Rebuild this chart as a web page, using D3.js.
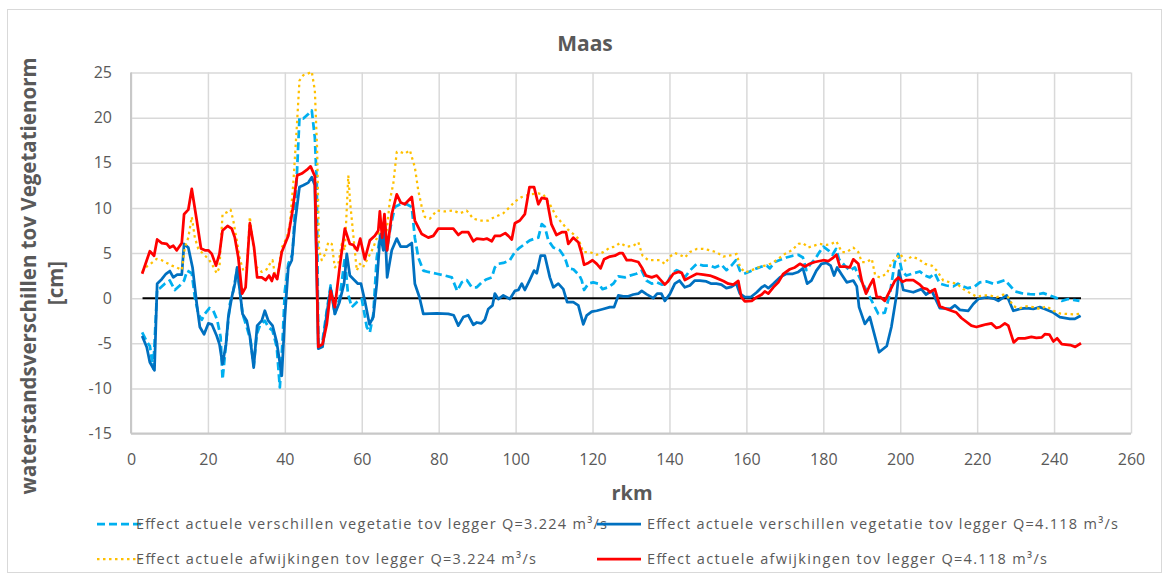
<!DOCTYPE html>
<html>
<head>
<meta charset="utf-8">
<script src="https://cdn.jsdelivr.net/npm/d3@7"></script>
<style>
  body { margin: 0; background: #fff; }
  text { font-family: "Open Sans", "Liberation Sans", sans-serif; fill: #595959; }
</style>
</head>
<body>
<div id="chart"></div>
<script>
// rkm / waterstand difference [cm]
const vegQ3224 = [[2.9,-3.8],[4.1,-4.8],[4.9,-5.3],[5.8,-7.8],[6.8,1.0],[7.5,1.1],[8.8,1.6],[10.1,1.95],[11.4,0.9],[12.7,1.4],[13.8,1.95],[14.6,3.05],[15.8,2.75],[16.6,0.1],[17.5,-1.75],[18.4,-2.4],[19.2,-1.75],[20.4,-1.1],[21.4,-1.4],[22.4,-2.4],[23.3,-4.3],[23.8,-9.0],[24.7,-5.1],[25.7,-0.65],[26.6,0.8],[27.6,3.2],[28.3,0.8],[29.0,-1.75],[30.1,-3.2],[31.1,-4.7],[31.9,-7.5],[32.7,-4.0],[33.5,-3.05],[34.8,-2.5],[35.7,-3.2],[36.8,-3.6],[37.9,-5.45],[38.7,-9.9],[39.4,-4.7],[40.0,0.8],[40.9,3.8],[42.0,4.9],[43.1,13.4],[43.8,20.0],[44.8,19.9],[46.1,20.4],[47.0,20.8],[47.8,17.8],[48.3,12.7],[48.7,-5.1],[49.8,-4.7],[50.9,-1.4],[51.9,1.4],[53.0,-1.75],[54.3,0.1],[55.6,4.5],[56.4,0.5],[57.4,-1.0],[58.7,-0.45],[60.0,-0.1],[61.3,-3.2],[62.1,-3.8],[63.0,-1.75],[63.9,4.5],[64.7,6.7],[65.6,6.9],[66.5,5.3],[67.5,7.9],[68.6,10.1],[70.0,10.4],[71.7,10.4],[73.0,10.1],[73.8,6.7],[74.7,4.5],[76.0,3.05],[77.3,2.9],[79.5,2.7],[81.6,2.5],[83.4,2.3],[84.8,0.8],[86.0,1.75],[87.3,2.0],[88.6,1.2],[89.9,1.2],[91.2,1.75],[92.5,2.1],[93.8,2.3],[94.6,3.4],[95.5,3.8],[96.8,3.9],[98.5,4.2],[99.8,5.1],[101.1,5.6],[102.4,6.0],[103.7,6.4],[105.0,6.6],[105.9,6.7],[106.8,8.2],[107.6,7.9],[108.5,6.4],[109.8,5.6],[111.5,5.3],[112.8,4.5],[113.7,3.3],[115.0,3.2],[116.6,2.5],[117.2,1.95],[117.8,0.9],[118.9,1.6],[120.2,1.75],[121.5,1.6],[122.6,1.0],[124.1,1.2],[125.4,1.6],[126.7,2.4],[128.4,2.3],[129.7,2.5],[131.4,2.7],[132.8,3.05],[134.0,1.95],[135.4,1.6],[136.7,1.75],[138.0,1.5],[139.3,1.6],[140.6,2.7],[141.9,3.1],[142.9,2.9],[144.0,2.3],[145.3,3.05],[147.1,3.8],[148.8,3.6],[150.5,3.6],[151.8,3.4],[153.5,3.7],[154.8,3.1],[156.1,3.6],[157.3,4.2],[158.3,3.05],[159.4,2.7],[160.9,2.95],[162.7,3.3],[164.0,3.5],[165.3,3.6],[166.1,3.3],[167.4,4.0],[169.2,4.3],[170.4,4.5],[172.1,4.7],[173.5,4.8],[174.7,4.5],[175.6,3.1],[176.7,3.8],[177.8,4.3],[179.0,5.1],[180.0,5.7],[181.3,5.3],[182.4,4.8],[183.3,5.45],[184.1,4.3],[185.6,3.6],[186.9,3.05],[188.2,3.4],[189.5,2.2],[191.3,0.8],[193.0,-0.65],[194.3,-1.75],[196.0,-1.6],[197.3,0.45],[198.6,4.0],[199.5,4.9],[200.4,3.05],[201.6,2.5],[203.4,2.75],[205.1,2.95],[206.4,2.5],[207.7,2.3],[209.0,2.75],[210.3,1.6],[212.0,1.4],[213.8,1.3],[215.0,1.6],[216.3,1.3],[217.6,1.1],[219.4,1.3],[220.7,1.75],[222.5,1.85],[224.2,1.6],[225.5,1.75],[227.2,2.0],[228.5,1.4],[229.8,0.75],[231.5,0.55],[233.7,0.45],[235.4,0.4],[237.2,0.55],[238.9,0.3],[240.7,0.0],[242.0,-0.3],[243.7,-0.1],[245.0,-0.2],[246.6,-0.3]];

const vegQ4118 = [[2.9,-4.2],[4.1,-5.45],[4.9,-7.1],[6.1,-8.0],[6.8,1.6],[8.0,2.1],[9.1,2.7],[10.1,3.0],[11.0,2.3],[12.0,2.6],[13.2,2.6],[13.8,6.0],[14.9,5.6],[16.0,3.4],[17.1,-0.65],[17.9,-3.2],[19.0,-4.0],[20.1,-2.8],[21.0,-2.9],[22.3,-4.2],[23.0,-5.1],[23.8,-7.3],[24.7,-5.1],[25.3,-2.1],[26.2,0.1],[27.0,1.6],[27.6,3.4],[28.5,0.1],[29.0,-1.75],[30.1,-2.5],[30.9,-4.2],[31.9,-7.7],[32.8,-3.05],[34.0,-2.5],[34.8,-1.4],[35.7,-2.5],[36.8,-3.05],[37.9,-4.9],[39.2,-8.6],[40.0,-2.1],[40.9,3.4],[41.8,4.2],[42.6,8.2],[43.8,12.3],[44.8,12.5],[46.1,12.8],[47.0,13.4],[47.8,12.5],[48.7,-5.6],[49.8,-5.4],[50.9,-1.75],[51.9,1.1],[53.0,-1.75],[54.2,-0.45],[55.4,1.6],[56.1,4.9],[56.9,2.5],[59.0,1.6],[59.8,1.6],[60.8,-0.3],[62.0,-2.9],[63.0,-2.1],[63.9,1.6],[64.8,7.1],[65.6,5.3],[66.0,8.2],[66.6,2.3],[67.8,5.3],[69.1,6.6],[70.1,5.7],[71.7,5.7],[73.0,6.1],[73.8,1.6],[75.0,0.1],[76.0,-1.75],[79.5,-1.7],[82.5,-1.75],[83.9,-1.9],[85.1,-3.05],[86.4,-2.1],[87.7,-1.9],[89.0,-2.95],[89.9,-2.7],[91.1,-2.8],[92.0,-2.4],[92.9,-1.2],[94.0,-0.8],[94.6,0.5],[95.5,-0.1],[96.8,0.3],[98.5,-0.1],[99.8,0.8],[100.7,0.9],[101.6,1.6],[102.4,0.9],[103.6,1.95],[104.8,3.05],[105.5,2.75],[106.5,4.7],[107.6,4.7],[108.9,2.3],[109.8,1.2],[111.1,1.6],[112.4,1.0],[113.4,-0.45],[115.0,-0.45],[116.3,-0.8],[117.6,-2.9],[118.5,-1.9],[119.8,-1.5],[121.1,-1.4],[122.8,-1.2],[124.5,-1.0],[125.6,-1.0],[126.7,0.3],[128.0,0.2],[129.3,0.2],[130.6,0.4],[131.9,0.5],[132.8,0.8],[134.0,0.45],[135.8,0.0],[136.8,0.5],[137.9,0.5],[138.8,-0.3],[140.1,0.45],[141.4,1.6],[142.6,1.95],[144.0,1.2],[145.3,1.4],[146.6,1.95],[147.9,1.95],[149.6,1.85],[150.9,1.6],[152.2,1.6],[153.5,1.5],[154.8,1.1],[156.1,1.25],[157.4,1.6],[158.3,0.5],[159.6,0.1],[161.1,0.1],[162.7,0.65],[164.0,1.2],[164.8,1.4],[165.7,1.1],[167.0,1.6],[168.7,2.3],[170.4,2.7],[172.1,2.7],[173.5,2.9],[174.7,3.3],[175.8,1.6],[176.9,1.95],[178.2,3.05],[179.5,3.8],[180.8,3.9],[181.9,3.6],[182.8,2.5],[183.6,3.4],[184.8,2.6],[186.1,1.75],[187.8,1.95],[188.7,1.3],[189.3,-1.0],[190.8,-2.85],[192.1,-2.1],[194.5,-6.0],[196.5,-5.3],[197.7,-3.2],[199.1,0.5],[199.7,3.05],[200.8,0.9],[203.4,0.65],[205.5,1.0],[206.7,0.4],[208.2,0.8],[210.3,-1.1],[213.0,-1.2],[214.2,-0.8],[215.5,-1.3],[217.7,-1.4],[219.0,-0.65],[220.3,-0.1],[222.5,0.1],[224.6,-0.1],[225.5,-0.3],[227.7,0.3],[229.4,-1.4],[231.1,-1.2],[232.8,-1.1],[234.6,-1.2],[236.3,-1.0],[237.6,-1.2],[239.8,-1.6],[241.5,-2.1],[244.1,-2.3],[245.4,-2.3],[246.9,-1.95]];

const afwQ3224 = [[2.9,2.9],[4.1,3.5],[5.4,3.9],[6.7,4.35],[8.0,4.2],[9.3,3.9],[10.6,3.6],[11.9,3.4],[13.2,3.1],[14.0,5.6],[14.9,6.7],[15.8,9.0],[16.6,6.7],[17.5,5.45],[18.8,4.9],[20.1,4.35],[21.0,3.8],[22.3,2.75],[23.0,3.4],[23.8,9.3],[24.9,9.5],[25.9,9.8],[26.6,8.6],[27.5,6.4],[28.3,4.35],[29.2,3.05],[30.1,3.4],[30.9,9.0],[31.6,6.4],[32.7,3.4],[34.0,2.9],[35.3,3.2],[36.1,3.8],[36.8,4.2],[37.4,2.7],[38.3,3.05],[39.2,5.6],[40.5,6.7],[41.3,8.2],[42.2,12.7],[43.1,18.9],[43.8,24.1],[44.8,24.7],[46.1,24.9],[47.0,25.1],[47.8,23.0],[48.4,16.4],[48.9,5.3],[49.6,4.2],[50.5,4.9],[51.3,6.2],[52.2,6.0],[53.0,3.4],[53.9,3.8],[54.8,6.0],[55.6,5.3],[56.5,13.6],[57.0,10.5],[58.7,3.05],[59.5,3.8],[60.3,3.4],[61.7,4.5],[63.0,5.6],[64.3,7.1],[65.6,8.2],[66.5,7.5],[67.3,10.8],[68.2,12.7],[69.1,16.2],[70.0,16.2],[71.2,16.0],[72.5,16.4],[73.8,14.5],[74.7,11.9],[75.6,10.1],[76.4,9.0],[77.7,8.8],[79.5,9.7],[81.6,9.6],[83.8,9.7],[85.5,9.4],[87.3,9.7],[89.0,8.8],[90.7,8.6],[92.9,8.6],[94.6,9.0],[96.8,9.4],[98.5,10.1],[99.8,10.7],[101.6,11.2],[103.7,11.5],[105.9,11.6],[107.2,11.5],[108.9,10.4],[110.6,9.0],[111.5,8.6],[113.3,7.7],[115.0,7.1],[116.3,6.6],[117.6,5.1],[119.3,5.1],[121.1,4.8],[122.8,5.1],[124.5,5.6],[125.8,5.7],[127.1,6.1],[128.9,5.7],[130.6,5.8],[131.9,6.2],[133.0,4.7],[134.5,4.2],[135.8,4.2],[137.5,4.2],[138.8,3.8],[140.1,4.6],[141.4,5.0],[142.7,4.8],[144.0,4.5],[145.3,5.1],[147.1,5.45],[148.8,5.45],[150.5,5.3],[152.2,5.1],[154.0,4.6],[155.3,4.7],[156.4,4.8],[157.5,4.9],[158.3,3.5],[159.6,2.85],[161.4,3.1],[163.1,3.4],[164.8,3.6],[166.6,3.85],[168.3,4.35],[170.0,4.9],[171.8,5.3],[173.5,6.0],[174.7,6.1],[176.1,5.6],[177.4,5.8],[179.1,6.0],[180.8,5.9],[182.1,6.0],[183.4,6.3],[184.8,5.1],[186.1,5.1],[187.8,5.6],[189.1,5.1],[190.0,4.0],[191.3,4.0],[192.6,4.35],[193.5,2.5],[194.7,2.3],[196.5,2.7],[197.8,4.0],[199.1,4.5],[200.0,4.9],[201.2,4.15],[203.0,4.6],[204.7,4.35],[206.4,3.8],[208.2,3.6],[209.5,3.05],[211.2,1.95],[212.9,1.75],[214.7,1.6],[216.4,1.0],[218.2,0.55],[219.9,0.15],[221.6,0.3],[223.3,0.3],[225.1,0.1],[226.8,0.4],[228.1,0.1],[229.4,-0.9],[231.1,-1.1],[232.8,-0.9],[234.6,-1.0],[236.3,-1.2],[238.0,-0.9],[239.8,-1.4],[241.5,-1.7],[243.2,-1.75],[245.0,-1.8],[246.7,-1.75]];

const afwQ4118 = [[2.9,2.7],[4.9,5.2],[6.0,4.7],[6.8,6.5],[8.0,6.1],[9.3,6.0],[10.1,5.6],[11.0,5.8],[11.9,5.3],[13.2,6.1],[13.8,9.3],[14.9,9.8],[15.8,12.1],[17.1,8.6],[18.2,5.5],[19.2,5.3],[20.1,5.3],[21.0,4.9],[22.1,3.6],[23.0,4.9],[23.8,7.5],[25.1,8.0],[26.2,7.7],[27.0,6.7],[27.9,4.5],[28.9,0.5],[29.8,1.2],[30.9,8.3],[32.0,5.6],[32.8,2.3],[34.0,2.3],[35.0,2.0],[35.9,2.5],[36.6,1.9],[37.2,2.7],[38.0,2.1],[39.2,5.1],[40.9,6.9],[42.0,9.7],[43.2,13.6],[44.4,13.8],[45.7,14.2],[46.7,14.6],[47.8,13.5],[48.7,-5.4],[49.8,-5.1],[50.9,-2.9],[51.9,0.8],[53.0,-1.0],[54.3,3.6],[55.6,7.7],[56.9,6.0],[57.8,5.9],[58.8,5.3],[59.6,6.6],[60.8,4.3],[62.1,6.4],[63.4,6.9],[64.3,7.5],[64.7,9.6],[65.3,6.7],[65.9,9.3],[66.6,5.3],[67.8,9.3],[69.1,11.5],[70.1,10.6],[71.2,10.4],[73.0,11.2],[73.8,8.6],[75.6,7.1],[77.3,6.7],[78.6,6.9],[79.9,7.7],[83.8,7.7],[85.1,7.0],[86.0,7.3],[87.7,7.3],[89.0,6.3],[89.9,6.6],[91.6,6.5],[92.5,6.6],[93.8,6.3],[94.6,6.9],[96.0,6.9],[97.3,7.2],[98.1,6.9],[99.0,6.5],[99.8,8.3],[101.1,8.6],[102.4,9.3],[103.6,12.3],[104.8,12.3],[105.9,10.4],[106.8,11.1],[108.1,11.0],[109.3,8.2],[110.6,7.0],[112.0,7.3],[113.1,7.3],[113.7,6.0],[115.0,6.7],[116.3,6.2],[117.2,4.9],[117.8,3.7],[118.9,3.9],[120.0,4.2],[121.1,3.8],[122.1,3.3],[123.0,4.3],[124.5,4.6],[125.8,4.7],[127.1,5.0],[127.8,5.0],[128.9,4.2],[130.2,4.2],[131.9,4.0],[132.8,3.4],[133.9,2.5],[135.4,2.3],[136.7,2.5],[137.5,2.1],[138.8,1.5],[139.7,1.9],[141.0,2.7],[142.3,2.9],[143.2,2.8],[144.0,2.0],[145.3,2.3],[147.1,2.7],[148.8,2.6],[150.5,2.5],[151.8,2.3],[154.0,1.9],[155.3,1.6],[156.6,1.5],[157.9,1.9],[158.7,0.1],[159.6,-0.35],[161.4,-0.3],[162.7,0.1],[164.0,0.4],[164.8,0.75],[165.7,0.5],[167.0,1.2],[168.3,1.75],[169.6,2.7],[171.3,3.2],[172.6,3.4],[173.9,3.8],[175.2,3.5],[176.5,3.8],[177.8,4.0],[180.0,4.2],[181.3,4.1],[182.6,4.5],[183.4,4.8],[184.3,3.5],[185.6,3.5],[186.9,3.4],[187.8,4.3],[189.1,3.8],[190.0,1.9],[191.1,0.5],[192.1,1.4],[193.0,2.1],[193.9,0.1],[194.9,0.1],[196.0,-0.3],[197.3,0.8],[198.6,1.9],[199.5,2.3],[200.6,1.8],[201.6,2.0],[203.4,2.0],[205.1,1.5],[206.0,1.1],[207.0,1.0],[207.7,0.65],[209.0,1.0],[210.3,-0.9],[212.0,-1.2],[214.6,-1.6],[215.9,-2.2],[218.5,-3.05],[219.8,-3.2],[221.1,-3.05],[222.4,-2.9],[223.7,-2.8],[225.0,-3.3],[225.9,-3.2],[227.2,-2.8],[228.1,-3.05],[229.5,-4.9],[230.7,-4.45],[232.4,-4.45],[234.1,-4.3],[235.4,-4.4],[236.8,-4.35],[237.6,-4.0],[238.8,-4.05],[239.8,-4.8],[240.8,-4.45],[242.0,-5.1],[244.2,-5.2],[245.5,-5.4],[247.0,-5.0]];

const zeroLine = [[3, 0], [247, 0]];

const xTicks = d3.range(0, 261, 20);
const yTicks = d3.range(-15, 26, 5);

const seriesNames = [
  "Effect actuele verschillen vegetatie tov legger Q=3.224 m³/s",
  "Effect actuele verschillen vegetatie tov legger Q=4.118 m³/s",
  "Effect actuele afwijkingen tov legger Q=3.224 m³/s",
  "Effect actuele afwijkingen tov legger Q=4.118 m³/s"
];

const W = 1169, H = 575;
const svg = d3.select("#chart").append("svg").attr("width", W).attr("height", H);

svg.append("rect").attr("x", 7.5).attr("y", 9.5).attr("width", 1154).attr("height", 563)
  .attr("fill", "#fff").attr("stroke", "#d9d9d9");

const x = d3.scaleLinear().domain([0, 260]).range([131, 1131]);
const y = d3.scaleLinear().domain([-15, 25]).range([433.5, 72.5]);

// grid
svg.append("g").attr("transform", `translate(0,${y(-15)})`)
  .call(d3.axisBottom(x).tickValues(xTicks).tickSize(-(y(-15) - y(25))).tickFormat(""))
  .call(g => g.select(".domain").remove())
  .call(g => g.selectAll("line").attr("stroke", "#d9d9d9").attr("stroke-width", 1.5));
svg.append("g").attr("transform", `translate(${x(0)},0)`)
  .call(d3.axisLeft(y).tickValues(yTicks).tickSize(-(x(260) - x(0))).tickFormat(""))
  .call(g => g.select(".domain").remove())
  .call(g => g.selectAll("line").attr("stroke", "#d9d9d9").attr("stroke-width", 1.5));

// axis lines
svg.append("line").attr("x1", x(0)).attr("x2", x(260)).attr("y1", y(-15)).attr("y2", y(-15))
  .attr("stroke", "#c8c8c8").attr("stroke-width", 2);
svg.append("line").attr("x1", x(0)).attr("x2", x(0)).attr("y1", y(-15)).attr("y2", y(25))
  .attr("stroke", "#c8c8c8").attr("stroke-width", 2);

// tick labels (plain hyphen for negatives, as in the original)
svg.append("g").attr("transform", `translate(0,${y(-15)})`)
  .call(d3.axisBottom(x).tickValues(xTicks).tickSize(0).tickPadding(20).tickFormat(d => String(d)))
  .call(g => g.select(".domain").remove())
  .call(g => g.selectAll("text").attr("font-size", 16).style("font-family", "'Open Sans', sans-serif").attr("fill", "#595959"));
svg.append("g").attr("transform", `translate(${x(0)},0)`)
  .call(d3.axisLeft(y).tickValues(yTicks).tickSize(0).tickPadding(19).tickFormat(d => String(d)))
  .call(g => g.select(".domain").remove())
  .call(g => g.selectAll("text").attr("font-size", 16).style("font-family", "'Open Sans', sans-serif").attr("fill", "#595959"));

const line = d3.line().x(d => x(d[0])).y(d => y(d[1]));

svg.append("path").datum(zeroLine).attr("d", line)
  .attr("fill", "none").attr("stroke", "#000").attr("stroke-width", 2);

const styles = [
  { data: vegQ3224, color: "#00b0f0", width: 2.75, dash: "8,4" },
  { data: vegQ4118, color: "#0070c0", width: 2.75, dash: null },
  { data: afwQ3224, color: "#ffc000", width: 2.25, dash: "2.5,3.5" },
  { data: afwQ4118, color: "#ff0000", width: 2.75, dash: null }
];

styles.forEach(s => {
  svg.append("path").datum(s.data).attr("d", line)
    .attr("fill", "none").attr("stroke", s.color).attr("stroke-width", s.width)
    .attr("stroke-linejoin", "round")
    .attr("stroke-dasharray", s.dash);
});

// titles
svg.append("text").attr("x", 585).attr("y", 51).attr("text-anchor", "middle")
  .attr("font-size", 21).attr("font-weight", "bold").text("Maas");
svg.append("text").attr("x", 632).attr("y", 500).attr("text-anchor", "middle")
  .attr("font-size", 20).attr("font-weight", "bold").text("rkm");
svg.append("text").attr("transform", "translate(36,276) rotate(-90)").attr("text-anchor", "middle")
  .attr("font-size", 20.5).attr("font-weight", "bold").text("waterstandsverschillen tov Vegetatienorm");
svg.append("text").attr("transform", "translate(63,283) rotate(-90)").attr("text-anchor", "middle")
  .attr("font-size", 20.5).attr("font-weight", "bold").text("[cm]");

// legend
const legendPos = [
  { lx: 97, tx: 136, y: 524, len: 471 },
  { lx: 597, tx: 647, y: 524, len: 471 },
  { lx: 97, tx: 136, y: 559, len: 400 },
  { lx: 597, tx: 647, y: 559, len: 400 }
];
legendPos.forEach((p, i) => {
  const s = styles[i];
  const g = svg.append("g");
  g.append("line").attr("x1", p.lx).attr("x2", p.lx + 44).attr("y1", p.y).attr("y2", p.y)
    .attr("stroke", s.color).attr("stroke-width", s.width).attr("stroke-dasharray", s.dash);
  g.append("text").attr("x", p.tx).attr("y", p.y + 5).attr("font-size", 14.5)
    .attr("textLength", p.len).attr("lengthAdjust", "spacing").text(seriesNames[i]);
});
</script>
</body>
</html>
